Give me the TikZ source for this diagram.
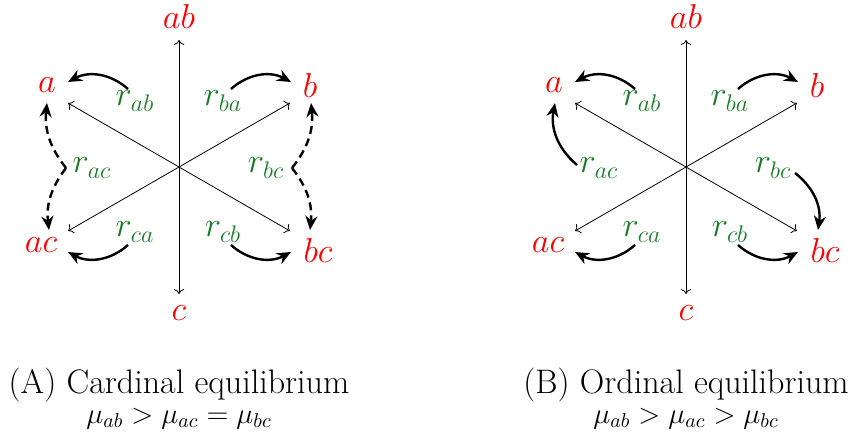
\documentclass[tikz,border=0pt]{standalone}
\usepackage{amsmath,amssymb}
\usepackage{tikz}
\usetikzlibrary{arrows.meta, calc}
\definecolor{vtx}{HTML}{FF0000}
\definecolor{rate}{HTML}{167A26}
\tikzset{
  axis/.style={thin, <->},
  vlabel/.style={text=vtx, font=\fontsize{17}{19}\selectfont, inner sep=0pt},
  rlabel/.style={text=rate, font=\fontsize{17}{19}\selectfont, inner sep=0pt},
  flow/.style={line width=1.2pt, -{Stealth[length=7pt, width=6pt]}},
  dflow/.style={flow, dash pattern=on 4pt off 2.5pt},
  captxt/.style={font=\fontsize{17}{20}\selectfont, anchor=base},
}
% one hexagon panel: axes, vertex labels, rate labels
\newcommand{\hexpanel}[1]{%
  \coordinate (#1-o) at (0,0);
  \coordinate (#1-tab) at (0,127);
  \coordinate (#1-tc)  at (0,-127);
  \coordinate (#1-ta)  at (-111,64);
  \coordinate (#1-tb)  at (111,64);
  \coordinate (#1-tac) at (-111,-64);
  \coordinate (#1-tbc) at (111,-64);
  \draw[axis] (#1-tc) -- (#1-tab);
  \draw[axis] (#1-tbc) -- (#1-ta);
  \draw[axis] (#1-tac) -- (#1-tb);
  \node[vlabel] (#1-ab) at (0,150)     {$ab$};
  \node[vlabel] (#1-c)  at (0,-146)    {$c$};
  \node[vlabel] (#1-a)  at (-132,82)   {$a$};
  \node[vlabel] (#1-b)  at (131,82)    {$b$};
  \node[vlabel] (#1-ac) at (-138,-78)  {$ac$};
  \node[vlabel] (#1-bc) at (139,-83)   {$bc$};
  \node[rlabel] (#1-rab) at (-44,66)   {$r_{ab}$};
  \node[rlabel] (#1-rba) at (44,66)    {$r_{ba}$};
  \node[rlabel] (#1-rac) at (-87,-1)   {$r_{ac}$};
  \node[rlabel] (#1-rbc) at (87,-1)    {$r_{bc}$};
  \node[rlabel] (#1-rca) at (-44,-65)  {$r_{ca}$};
  \node[rlabel] (#1-rcb) at (44,-65)   {$r_{cb}$};
  % arrow ends
  \coordinate (#1-s1) at (-51,78);   \coordinate (#1-e1) at (-111,85);
  \coordinate (#1-s2) at (52,78);    \coordinate (#1-e2) at (112,85);
  \coordinate (#1-s3) at (-51,-78);  \coordinate (#1-e3) at (-111,-85);
  \coordinate (#1-s4) at (52,-78);   \coordinate (#1-e4) at (112,-85);
  \draw[flow] (#1-s1) to[bend right=35] (#1-e1);
  \draw[flow] (#1-s2) to[bend left=35]  (#1-e2);
  \draw[flow] (#1-s3) to[bend left=35]  (#1-e3);
  \draw[flow] (#1-s4) to[bend right=35] (#1-e4);
}

\begin{document}
\begin{tikzpicture}[x=0.5pt, y=0.5pt]
  \useasboundingbox (0,0) rectangle (849,440);

  % (A) cardinal
  \begin{scope}[shift={(179,273)}]
    \hexpanel{A}
    \coordinate (A-pl) at (-113,-1);
    \coordinate (A-pr) at (113,-1);
    \coordinate (A-da)  at (-132,64);
    \coordinate (A-dac) at (-130,-63);
    \coordinate (A-db)  at (132,64);
    \coordinate (A-dbc) at (131,-63);
    \draw[dflow] (A-pl) to[bend left=22]  (A-da);
    \draw[dflow] (A-pl) to[bend right=22] (A-dac);
    \draw[dflow] (A-pr) to[bend right=22] (A-db);
    \draw[dflow] (A-pr) to[bend left=22]  (A-dbc);
    \node[captxt] (A-title) at (0,-226) {(A) Cardinal equilibrium};
    \node[captxt, font=\fontsize{14}{16}\selectfont] (A-order) at (0,-256)
      {$\mu_{ab} > \mu_{ac} = \mu_{bc}$};
  \end{scope}

  % (B) ordinal
  \begin{scope}[shift={(686,273)}]
    \hexpanel{B}
    \coordinate (B-sl) at (-109,2);
    \coordinate (B-el) at (-131,64);
    \coordinate (B-sr) at (109,-6);
    \coordinate (B-er) at (132,-63);
    \draw[flow] (B-sl) to[bend left=30] (B-el);
    \draw[flow] (B-sr) to[bend left=30] (B-er);
    \node[captxt] (B-title) at (0,-226) {(B) Ordinal equilibrium};
    \node[captxt, font=\fontsize{14}{16}\selectfont] (B-order) at (0,-256)
      {$\mu_{ab} > \mu_{ac} > \mu_{bc}$};
  \end{scope}
\end{tikzpicture}
\end{document}
